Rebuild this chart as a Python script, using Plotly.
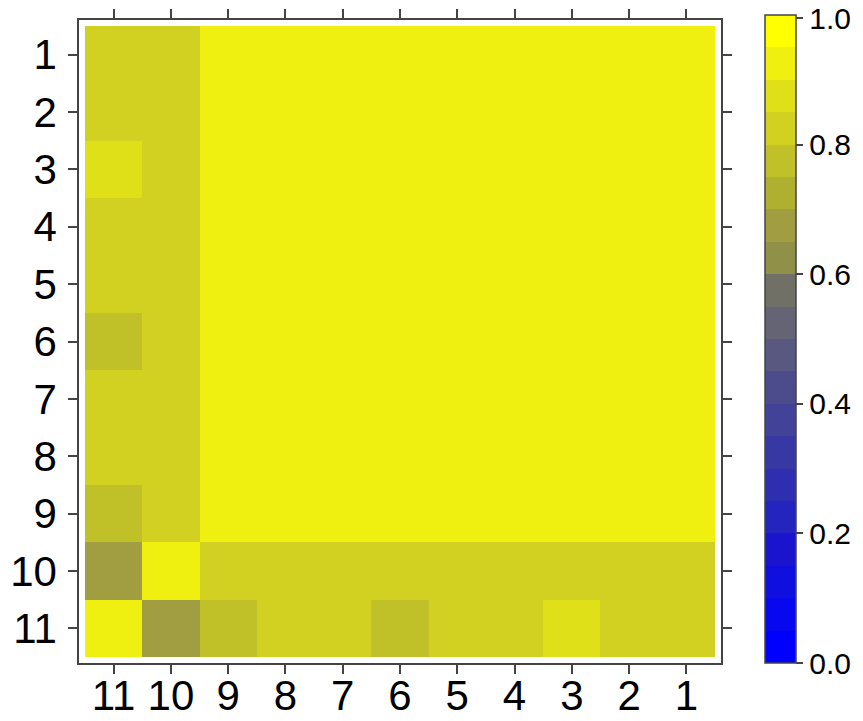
import plotly.graph_objects as go

# ---- data ----
x_labels = ["11", "10", "9", "8", "7", "6", "5", "4", "3", "2", "1"]
y_labels = ["1", "2", "3", "4", "5", "6", "7", "8", "9", "10", "11"]

# rows follow y_labels (top to bottom), columns follow x_labels (left to right)
row_1 = [0.82, 0.82, 0.92, 0.92, 0.92, 0.92, 0.92, 0.92, 0.92, 0.92, 0.92]
row_2 = [0.82, 0.82, 0.92, 0.92, 0.92, 0.92, 0.92, 0.92, 0.92, 0.92, 0.92]
row_3 = [0.87, 0.82, 0.92, 0.92, 0.92, 0.92, 0.92, 0.92, 0.92, 0.92, 0.92]
row_4 = [0.82, 0.82, 0.92, 0.92, 0.92, 0.92, 0.92, 0.92, 0.92, 0.92, 0.92]
row_5 = [0.82, 0.82, 0.92, 0.92, 0.92, 0.92, 0.92, 0.92, 0.92, 0.92, 0.92]
row_6 = [0.77, 0.82, 0.92, 0.92, 0.92, 0.92, 0.92, 0.92, 0.92, 0.92, 0.92]
row_7 = [0.82, 0.82, 0.92, 0.92, 0.92, 0.92, 0.92, 0.92, 0.92, 0.92, 0.92]
row_8 = [0.82, 0.82, 0.92, 0.92, 0.92, 0.92, 0.92, 0.92, 0.92, 0.92, 0.92]
row_9 = [0.77, 0.82, 0.92, 0.92, 0.92, 0.92, 0.92, 0.92, 0.92, 0.92, 0.92]
row_10 = [0.67, 0.92, 0.82, 0.82, 0.82, 0.82, 0.82, 0.82, 0.82, 0.82, 0.82]
row_11 = [0.92, 0.67, 0.77, 0.82, 0.82, 0.77, 0.82, 0.82, 0.87, 0.82, 0.82]
z_values = [row_1, row_2, row_3, row_4, row_5, row_6, row_7, row_8, row_9, row_10, row_11]

cbar_ticks = [0.0, 0.2, 0.4, 0.6, 0.8, 0.995]
cbar_ticktext = ["0.0", "0.2", "0.4", "0.6", "0.8", "1.0"]

# ---- style: 20 discrete bins from blue to yellow ----
bin_colors = [
    "#0000FF", "#0808EE", "#1010DE", "#1A14CE", "#2424BE",
    "#2E2EB0", "#3838A4", "#424298", "#4C4C8C", "#585880",
    "#646474", "#707066", "#80805A", "#909048", "#A09E40",
    "#B0B030", "#C0C028", "#D2D020", "#E0E018", "#F0F010",
]
bin_colors = bin_colors[:19] + ["#FFFF00"]
bin_colors[18] = "#F0F010"
bin_colors[17] = "#E0E018"
bin_colors[16] = "#D2D020"
bin_colors[15] = "#C0C028"
bin_colors[14] = "#B0B030"
bin_colors[13] = "#A09E40"
bin_colors[12] = "#909048"
n = len(bin_colors)
colorscale = []
for i, c in enumerate(bin_colors):
    colorscale.append([i / n, c])
    colorscale.append([(i + 1) / n, c])

font_family = "Liberation Sans, Arial, sans-serif"

fig = go.Figure(
    go.Heatmap(
        z=z_values,
        x=x_labels,
        y=y_labels,
        zmin=0,
        zmax=1,
        colorscale=colorscale,
        colorbar=dict(
            x=1.067,
            xanchor="left",
            y=0,
            yanchor="bottom",
            len=1,
            thicknessmode="pixels",
            thickness=31,
            xpad=0,
            ypad=0,
            outlinecolor="#444444",
            outlinewidth=1.5,
            ticks="outside",
            ticklen=7,
            tickwidth=1.5,
            tickcolor="#444444",
            tickmode="array",
            tickvals=cbar_ticks,
            ticktext=cbar_ticktext,
            tickfont=dict(family=font_family, size=30, color="black"),
        ),
    )
)

axis_common = dict(
    showline=True,
    linecolor="#444444",
    linewidth=1.5,
    mirror="ticks",
    ticks="outside",
    ticklen=9,
    tickwidth=1.5,
    tickcolor="#444444",
    showgrid=False,
    zeroline=False,
    automargin=False,
    tickfont=dict(family=font_family, size=42, color="black"),
)

fig.update_xaxes(type="category", range=[-0.605, 10.605],
                 ticklabelstandoff=-14, **axis_common)
fig.update_yaxes(type="category", range=[10.605, -0.605],
                 domain=[0, 643 / 648], ticklabelstandoff=3, **axis_common)

fig.update_layout(
    width=863,
    height=721,
    margin=dict(l=79, r=141, t=15, b=58),
    paper_bgcolor="white",
    plot_bgcolor="white",
)

fig.write_html("out.html")
